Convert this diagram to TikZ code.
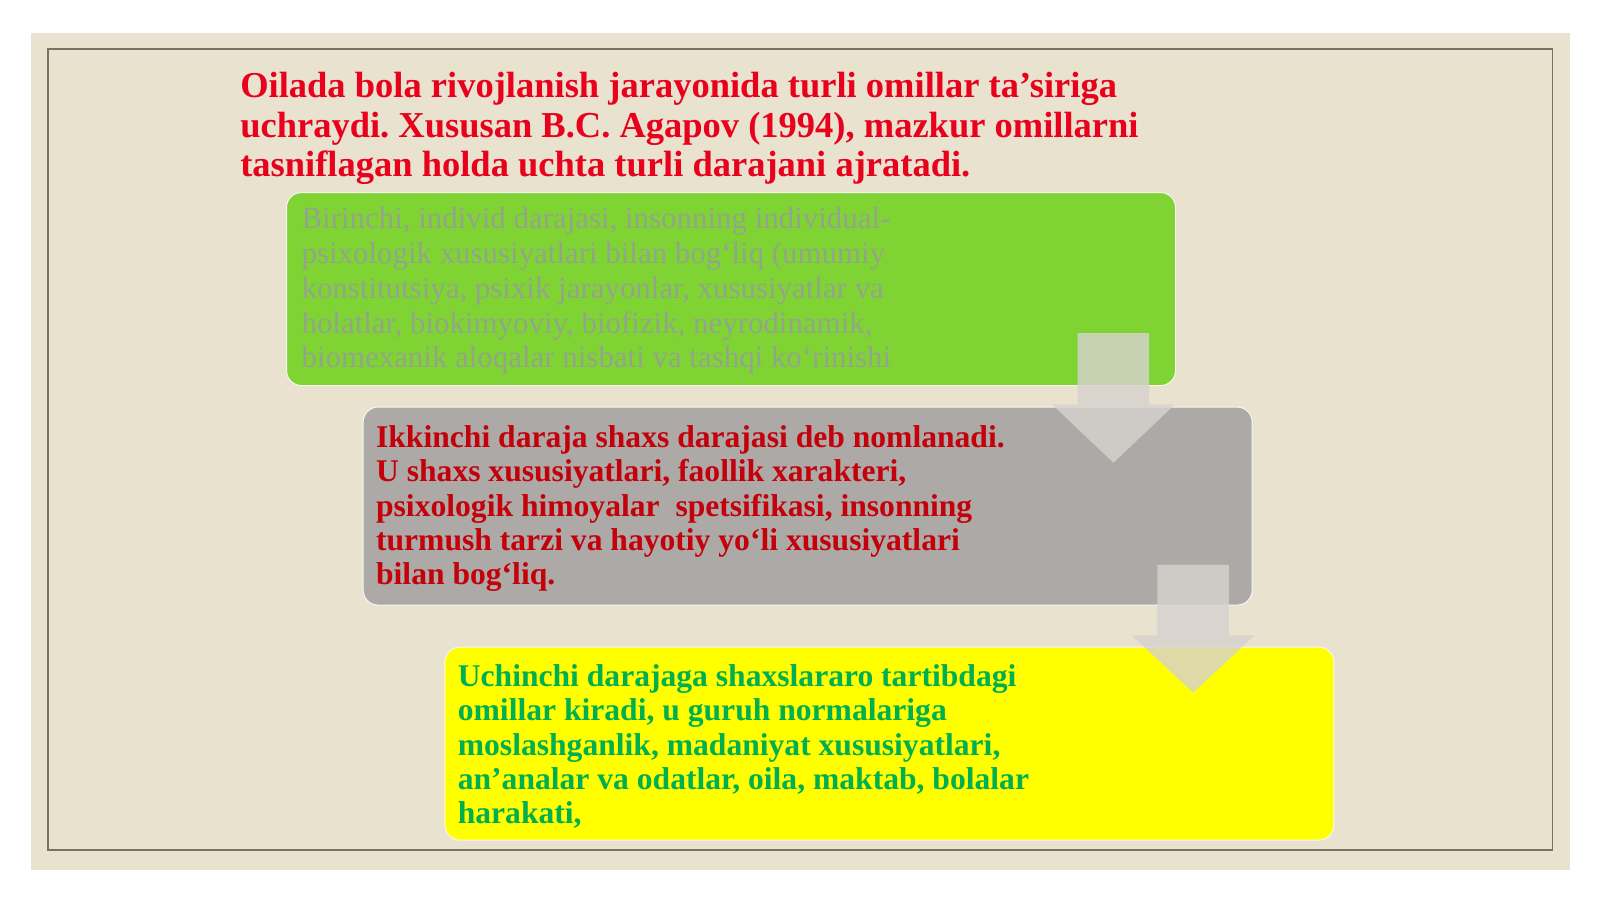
\documentclass[tikz,border=0pt]{standalone}
\usepackage{fontspec}
\setmainfont{Liberation Serif}
\frenchspacing
\definecolor{panel}{RGB}{233,226,206}
\definecolor{framec}{RGB}{120,114,102}
\definecolor{boxgreen}{RGB}{127,212,52}
\definecolor{boxgray}{RGB}{172,169,167}
\definecolor{boxyellow}{RGB}{255,255,0}
\definecolor{titlered}{RGB}{232,0,28}
\definecolor{darkred}{RGB}{196,0,10}
\definecolor{txtgreen}{RGB}{0,176,80}
\definecolor{fadedtxt}{RGB}{148,164,140}
\definecolor{arrowgray}{RGB}{214,210,206}
\begin{document}
\begin{tikzpicture}[x=1.0215pt,y=-1.0215pt,
  box/.style={rounded corners=15pt, draw=white!70!panel, line width=1pt, anchor=north west,
    minimum width=889pt, minimum height=193pt, inner sep=0pt},
  arr/.style={fill=arrowgray, fill opacity=0.82, draw=none},
  txt/.style={anchor=north west, inner sep=0pt, align=left},
  titlefont/.style={font=\fontsize{36.5}{39.8}\selectfont\bfseries\frenchspacing, text=titlered},
  boxfont/.style={font=\fontsize{31.6}{34.2}\selectfont\bfseries\frenchspacing},
  fadedfont/.style={font=\fontsize{30.9}{34.7}\selectfont\frenchspacing, text=fadedtxt}
]
\useasboundingbox (0,0) rectangle (1566.3,880.1);
\fill[white] (0,0) rectangle (1566.3,880.1);
\fill[panel] (30,32) rectangle (1537,852);
\draw[framec, line width=1.3pt] (47,48) rectangle (1520,832);

% title
\node[txt, titlefont] (title) at (235,67.7) {\strut Oilada bola rivojlanish jarayonida turli omillar ta’siriga\\
uchraydi. Xususan B.C. Agapov (1994), mazkur omillarni\\
tasniflagan holda uchta turli darajani ajratadi.};

% boxes
\node[box, fill=boxgreen] (g) at (280,188) {};
\node[box, fill=boxgray, minimum height=198pt] (k) at (355,398) {};
\node[box, fill=boxyellow] (y) at (435,633) {};

% box texts
\node[txt, fadedfont] (gt) at (295,200.2) {\strut Birinchi, individ darajasi, insonning individual-\\
psixologik xususiyatlari bilan bog‘liq (umumiy\\
konstitutsiya, psixik jarayonlar, xususiyatlar va\\
holatlar, biokimyoviy, biofizik, neyrodinamik,\\
biomexanik aloqalar nisbati va tashqi ko‘rinishi};
\node[txt, boxfont, text=darkred] (kt) at (368,414.6) {\strut Ikkinchi daraja shaxs darajasi deb nomlanadi.\\
U shaxs xususiyatlari, faollik xarakteri,\\
psixologik himoyalar\ \ spetsifikasi, insonning\\
turmush tarzi va hayotiy yo‘li xususiyatlari\\
bilan bog‘liq.};
\node[txt, boxfont, text=txtgreen] (yt) at (448,648.6) {\strut Uchinchi darajaga shaxslararo tartibdagi\\
omillar kiradi, u guruh normalariga\\
moslashganlik, madaniyat xususiyatlari,\\
an’analar va odatlar, oila, maktab, bolalar\\
harakati,};

% arrows
\fill[arr] (1055,326) -- (1125,326) -- (1125,396) -- (1150,396) -- (1090,453)
  -- (1030,396) -- (1055,396) -- cycle;
\fill[arr] (1133,553) -- (1203,553) -- (1203,622) -- (1228,622) -- (1168,678)
  -- (1108,622) -- (1133,622) -- cycle;
\end{tikzpicture}
\end{document}
